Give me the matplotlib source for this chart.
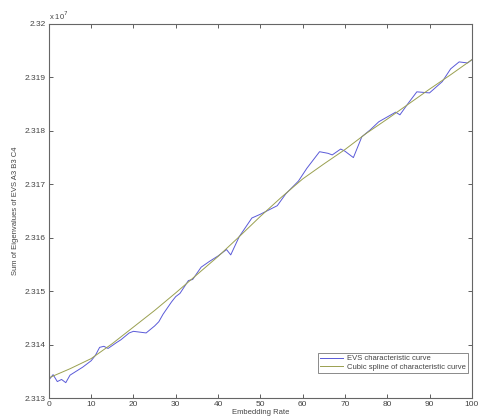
import numpy as np
import matplotlib
matplotlib.use('Agg')
import matplotlib.pyplot as plt

plt.rcParams['font.family'] = ['Liberation Sans', 'DejaVu Sans']

# EVS characteristic curve (values in units of 1e7)
rate = [0, 1, 2, 3, 4, 5, 8, 10, 11, 12, 13, 14, 16, 17, 19, 20, 23, 25, 26, 27,
        29, 30, 31, 33, 34, 36, 38, 40, 42, 43, 45, 48, 50, 52, 54, 56, 59, 61, 64, 66,
        67, 69, 70, 72, 74, 76, 78, 80, 82, 83, 85, 87, 90, 93, 95, 97, 99, 100]
evs = [2.31334, 2.31344, 2.31331, 2.31335, 2.31329, 2.31343, 2.31358, 2.31370, 2.31380, 2.31395,
       2.31397, 2.31393, 2.31404, 2.31409, 2.31422, 2.31425, 2.31422, 2.31435, 2.31443, 2.31457,
       2.31480, 2.31490, 2.31496, 2.31520, 2.31522, 2.31545, 2.31556, 2.31566, 2.31578, 2.31568,
       2.31602, 2.31637, 2.31644, 2.31652, 2.31660, 2.31682, 2.31706, 2.31730, 2.31761, 2.31758,
       2.31755, 2.31766, 2.31762, 2.31750, 2.31789, 2.31802, 2.31817, 2.31826, 2.31835, 2.31830,
       2.31852, 2.31873, 2.31871, 2.31892, 2.31916, 2.31929, 2.31927, 2.31933]

# cubic spline of the curve, read at every 5
spl_rate = [0, 5, 10, 15, 20, 25, 30, 35, 40, 45, 50, 55, 60, 65, 70, 75, 80, 85, 90, 95, 100]
spl = [2.31338, 2.31355, 2.31374, 2.31402, 2.31433, 2.31464, 2.31497, 2.31531, 2.31565, 2.31602,
       2.31640, 2.31676, 2.31710, 2.31738, 2.31765, 2.31795, 2.31822, 2.31850, 2.31878, 2.31905,
       2.31933]

fig = plt.figure(figsize=(4.79, 4.2), dpi=100)
ax = fig.add_axes([0.102, 0.052, 0.883, 0.891])

ax.plot(rate, np.array(evs) * 1e7, color='#5a5ad8', lw=0.7, label='EVS characteristic curve')
ax.plot(spl_rate, np.array(spl) * 1e7, color='#9aa050', lw=0.7, label='Cubic spline of characteristic curve')

ax.set_xlim(0, 100)
ax.set_ylim(2.313e7, 2.320e7)
ax.set_xticks(range(0, 101, 10))
yt = [2.313, 2.314, 2.315, 2.316, 2.317, 2.318, 2.319, 2.32]
ax.set_yticks([v * 1e7 for v in yt])
ax.set_yticklabels([str(v) for v in yt])
ax.tick_params(direction='in', length=3, width=0.6, labelsize=6, colors='#444444',
               top=True, right=True, pad=2)
for s in ax.spines.values():
    s.set_color('#666666')
    s.set_linewidth(0.8)

ax.text(0.0, 1.005, r'x 10$^7$', transform=ax.transAxes, fontsize=5.5, color='#444444',
        ha='left', va='bottom')
ax.set_xlabel('Embedding Rate', fontsize=5.5, color='#444444', labelpad=1)
ax.set_ylabel('Sum of Eigenvalues of EVS A3 B3 C4', fontsize=5.5, color='#444444', labelpad=4)

leg = ax.legend(loc='lower right', bbox_to_anchor=(1.0, 0.056), fontsize=5.5, frameon=True,
                fancybox=False, edgecolor='#555555', handlelength=3, borderpad=0.3,
                labelspacing=0.2, handletextpad=0.5)
leg.get_frame().set_linewidth(0.6)
for t in leg.get_texts():
    t.set_color('#444444')

fig.savefig('out.png', dpi=100)
